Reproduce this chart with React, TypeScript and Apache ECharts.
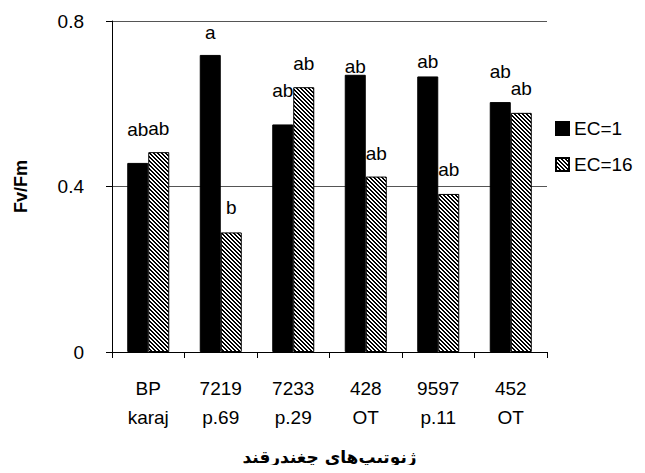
import React, { useEffect, useRef } from "react";
import * as echarts from "echarts";

const categories = ["BP\nkaraj", "7219\np.69", "7233\np.29", "428\nOT", "9597\np.11", "452\nOT"];
const ec1Values = [0.457, 0.718, 0.55, 0.67, 0.666, 0.604];
const ec16Values = [0.483, 0.289, 0.64, 0.424, 0.382, 0.578];
const ec1Letters = ["ab", "a", "ab", "ab", "ab", "ab"];
const ec16Letters = ["ab", "b", "ab", "ab", "ab", "ab"];
const yTicks = [0, 0.4, 0.8];

// vertical nudges of the significance letters (style only)
const ec1LabelDy = [-19, -8, -19, 6, 0, -16];
const ec16LabelDy = [-9, -10, -9, -9, -10, -10];

function makeHatch(): HTMLCanvasElement {
  const c = document.createElement("canvas");
  c.width = 4;
  c.height = 4;
  const ctx = c.getContext("2d")!;
  ctx.fillStyle = "#ffffff";
  ctx.fillRect(0, 0, 4, 4);
  ctx.fillStyle = "#000000";
  for (let i = 0; i < 4; i++) {
    ctx.fillRect(i, i, 1, 1);
    ctx.fillRect((i + 1) % 4, i, 1, 1);
  }
  return c;
}

export default function App() {
  const ref = useRef<HTMLDivElement>(null);
  useEffect(() => {
    if (!ref.current) return;
    const chart = echarts.init(ref.current, undefined, { renderer: "svg" });
    const hatch = makeHatch();
    const font = "Liberation Sans";
    const labelStyle = { color: "#000", fontSize: 19, fontFamily: font };
    chart.setOption({
      animation: false,
      backgroundColor: "#ffffff",
      grid: { left: 112, right: 98, top: 21, bottom: 121, containLabel: false },
      legend: {
        orient: "vertical",
        left: 550,
        top: 114,
        itemWidth: 13,
        itemHeight: 13,
        itemGap: 17,
        icon: "rect",
        textStyle: { color: "#000", fontSize: 19, fontFamily: font },
        data: ["EC=1", "EC=16"],
      },
      xAxis: {
        type: "category",
        data: categories,
        axisLine: { lineStyle: { color: "#000", width: 1 } },
        axisTick: { show: true, length: 6, interval: 0, alignWithLabel: false, lineStyle: { color: "#000" } },
        axisLabel: { interval: 0, color: "#000", fontSize: 19, fontFamily: font, lineHeight: 29, margin: 22 },
        name: "ژنوتیپ‌های چغندرقند",
        nameLocation: "middle",
        nameGap: 105,
        nameTextStyle: {
          color: "#000",
          fontSize: 17,
          fontWeight: "bold",
          fontFamily: "DejaVu Sans",
          verticalAlign: "middle",
          lineHeight: 20,
        },
      },
      yAxis: {
        type: "value",
        min: 0,
        max: 0.8,
        interval: 0.4,
        axisLine: { show: true, lineStyle: { color: "#000", width: 1 } },
        axisTick: { show: true, length: 6, lineStyle: { color: "#000" } },
        axisLabel: {
          color: "#000",
          fontSize: 19,
          fontFamily: font,
          margin: 28,
          formatter: (v: number) => (yTicks.includes(v) ? (v === 0 ? "0" : v.toFixed(1)) : ""),
        },
        splitLine: { show: true, lineStyle: { color: "#555", width: 1 } },
        name: "Fv/Fm",
        nameLocation: "middle",
        nameGap: 82,
        nameRotate: 90,
        nameTextStyle: { color: "#000", fontSize: 18, fontWeight: "bold", fontFamily: font },
      },
      series: [
        {
          name: "EC=1",
          type: "bar",
          barWidth: 21,
          barGap: "0%",
          itemStyle: { color: "#000", borderColor: "#000", borderWidth: 1 },
          data: ec1Values.map((v, i) => ({
            value: v,
            label: {
              show: true,
              position: "top",
              distance: 5,
              offset: [0, ec1LabelDy[i]],
              formatter: ec1Letters[i],
              ...labelStyle,
            },
          })),
        },
        {
          name: "EC=16",
          type: "bar",
          barWidth: 21,
          barGap: "0%",
          itemStyle: {
            color: { image: hatch, repeat: "repeat" },
            borderColor: "#000",
            borderWidth: 1,
          },
          data: ec16Values.map((v, i) => ({
            value: v,
            label: {
              show: true,
              position: "top",
              distance: 5,
              offset: [0, ec16LabelDy[i]],
              formatter: ec16Letters[i],
              ...labelStyle,
            },
          })),
        },
      ],
    });
    return () => chart.dispose();
  }, []);
  return <div ref={ref} style={{ width: 645, height: 473, margin: -8 }} />;
}
